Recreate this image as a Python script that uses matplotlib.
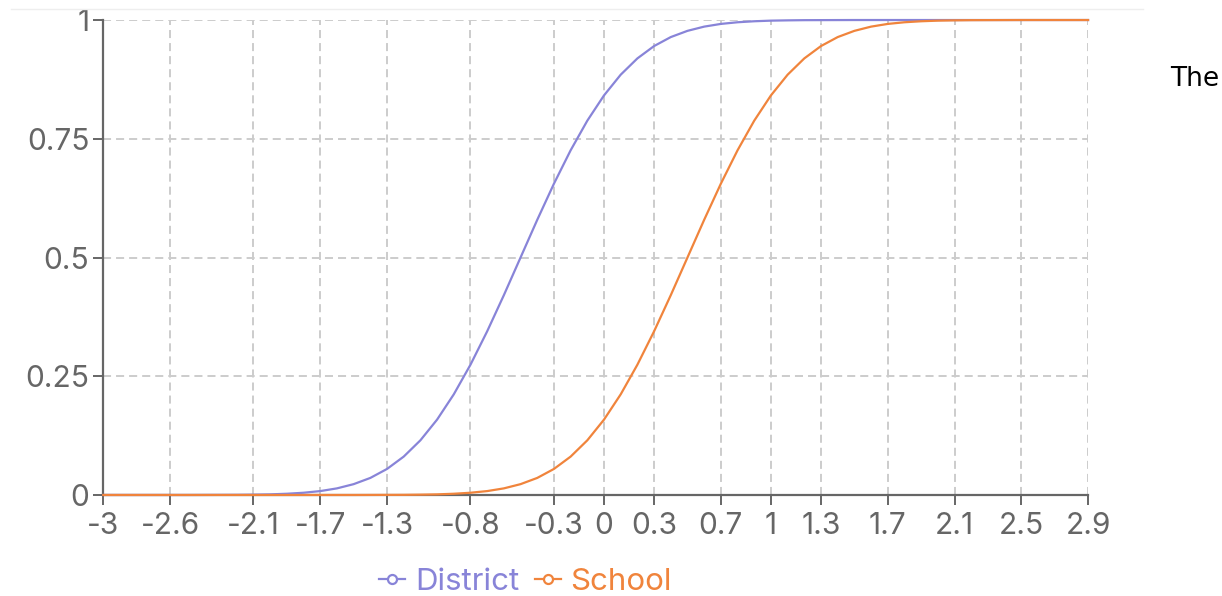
import matplotlib
matplotlib.use('Agg')
import matplotlib.pyplot as plt
from matplotlib.lines import Line2D

# x points (step 0.1) and cumulative values
theta = [-3.0, -2.9, -2.8, -2.7, -2.6, -2.5, -2.4, -2.3, -2.2, -2.1,
         -2.0, -1.9, -1.8, -1.7, -1.6, -1.5, -1.4, -1.3, -1.2, -1.1,
         -1.0, -0.9, -0.8, -0.7, -0.6, -0.5, -0.4, -0.3, -0.2, -0.1,
         0.0, 0.1, 0.2, 0.3, 0.4, 0.5, 0.6, 0.7, 0.8, 0.9,
         1.0, 1.1, 1.2, 1.3, 1.4, 1.5, 1.6, 1.7, 1.8, 1.9,
         2.0, 2.1, 2.2, 2.3, 2.4, 2.5, 2.6, 2.7, 2.8, 2.9]

district = [0.0, 0.0, 0.0, 0.0, 0.0, 0.0, 0.0001, 0.0002, 0.0003, 0.0007,
            0.0013, 0.0026, 0.0047, 0.0082, 0.0139, 0.0228, 0.0359, 0.0548, 0.0808, 0.1151,
            0.1587, 0.2119, 0.2743, 0.3446, 0.4207, 0.5, 0.5793, 0.6554, 0.7257, 0.7881,
            0.8413, 0.8849, 0.9192, 0.9452, 0.9641, 0.9772, 0.9861, 0.9918, 0.9953, 0.9974,
            0.9987, 0.9993, 0.9997, 0.9998, 0.9999, 1.0, 1.0, 1.0, 1.0, 1.0,
            1.0, 1.0, 1.0, 1.0, 1.0, 1.0, 1.0, 1.0, 1.0, 1.0]

school = [0.0, 0.0, 0.0, 0.0, 0.0, 0.0, 0.0, 0.0, 0.0, 0.0,
          0.0, 0.0, 0.0, 0.0, 0.0, 0.0, 0.0001, 0.0002, 0.0003, 0.0007,
          0.0013, 0.0026, 0.0047, 0.0082, 0.0139, 0.0228, 0.0359, 0.0548, 0.0808, 0.1151,
          0.1587, 0.2119, 0.2743, 0.3446, 0.4207, 0.5, 0.5793, 0.6554, 0.7257, 0.7881,
          0.8413, 0.8849, 0.9192, 0.9452, 0.9641, 0.9772, 0.9861, 0.9918, 0.9953, 0.9974,
          0.9987, 0.9993, 0.9997, 0.9998, 0.9999, 1.0, 1.0, 1.0, 1.0, 1.0]

x_ticks = [-3, -2.6, -2.1, -1.7, -1.3, -0.8, -0.3, 0, 0.3, 0.7, 1, 1.3, 1.7, 2.1, 2.5, 2.9]
y_ticks = [0, 0.25, 0.5, 0.75, 1]
y_labels = ['0', '0.25', '0.5', '0.75', '1']

purple = '#8884d8'
orange = '#f0843c'
axis_grey = '#666666'

plt.rcParams['font.family'] = ['Inter', 'DejaVu Sans']
plt.rcParams['lines.scale_dashes'] = False

fig = plt.figure(figsize=(12.22, 5.96), dpi=100)
ax = fig.add_axes([0.0845, 0.1695, 0.8059, 0.7969])

ax.plot(theta, district, color=purple, linewidth=1.6, clip_on=False, zorder=3)
ax.plot(theta, school, color=orange, linewidth=1.6, clip_on=False, zorder=4)

ax.set_xlim(-3, 2.9)
ax.set_ylim(0, 1)
ax.set_xticks(x_ticks)
ax.set_xticklabels([f'{t:g}' for t in x_ticks])
ax.set_yticks(y_ticks)
ax.set_yticklabels(y_labels)

# dashed grid like the web chart
ax.grid(True, color='#cccccc', linewidth=1.4, dashes=(5.8, 3.6), zorder=0)
for s in ['top', 'right']:
    ax.spines[s].set_visible(False)
for s in ['left', 'bottom']:
    ax.spines[s].set_color(axis_grey)
    ax.spines[s].set_linewidth(1.6)
ax.tick_params(axis='both', colors=axis_grey, labelsize=21.5, width=1.4)
ax.tick_params(axis='x', length=7, pad=5)
ax.tick_params(axis='y', length=7, pad=3)

# legend below the plot
handles = [Line2D([0], [0], color=purple, linewidth=1.6, marker='o', markersize=6.5,
                  markerfacecolor='white', markeredgewidth=1.6),
           Line2D([0], [0], color=orange, linewidth=1.6, marker='o', markersize=6.5,
                  markerfacecolor='white', markeredgewidth=1.6)]
leg = fig.legend(handles, ['District', 'School'], loc='center', bbox_to_anchor=(0.43, 0.024),
                 ncol=2, frameon=False, fontsize=22.5, handlelength=0.85, handletextpad=0.3,
                 columnspacing=0.5, numpoints=1)
leg.get_texts()[0].set_color(purple)
leg.get_texts()[1].set_color(orange)

# faint container border on top and stray text at the right
fig.add_artist(Line2D([11 / 1222, 1143 / 1222], [1 - 9 / 596, 1 - 9 / 596],
                      color='#eeeeee', linewidth=1.0, transform=fig.transFigure))
fig.text(1170 / 1222, 1 - 79 / 596, 'The', fontsize=19, color='black',
         family='DejaVu Sans', va='center', ha='left')

fig.savefig('out.png', dpi=100)
